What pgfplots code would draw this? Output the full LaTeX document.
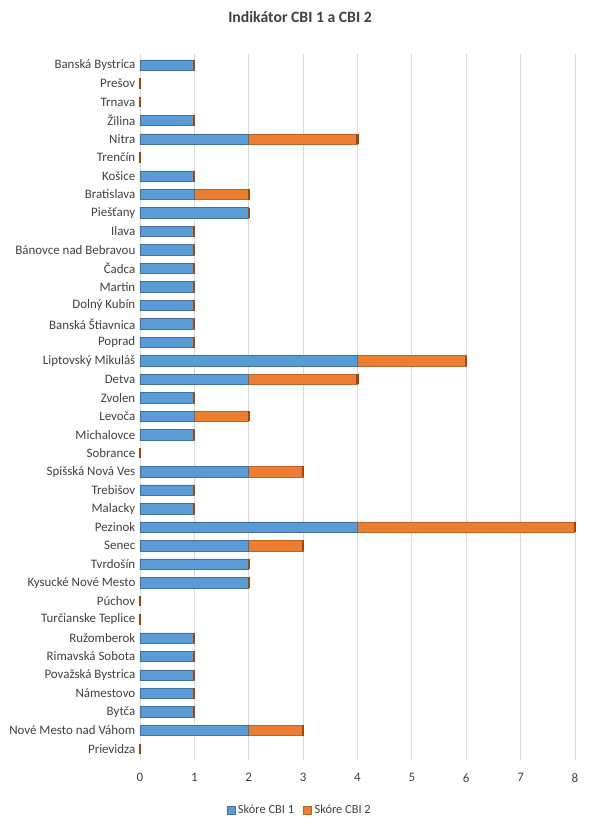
\documentclass[border=0pt]{standalone}
\usepackage{pgfplots}
\pgfplotsset{compat=1.18}
\usepackage{fontspec}
\setmainfont{Carlito}
\definecolor{cbione}{HTML}{5B9BD5}
\definecolor{cbitwo}{HTML}{ED7D31}
\definecolor{cbionedark}{HTML}{41719C}
\definecolor{cbitwodark}{HTML}{9E480E}
\definecolor{gridgray}{HTML}{D9D9D9}
\definecolor{labelgray}{HTML}{404040}
\pgfplotsset{frame/.style={
  at={(0,0)}, anchor=south west,
  scale only axis,
  width=326.25pt, height=529.5pt,
  xmin=0, xmax=8,
  ymin=-0.6, ymax=37.6,
  y dir=reverse,
}}
\begin{document}
\begin{tikzpicture}
\useasboundingbox (-105pt,-48pt) rectangle (345pt,570pt);
\begin{axis}[
  frame,
  xbar stacked,
  bar width=7.8pt,
  xtick={0,1,...,8},
  ytick={0,1,...,37},
  yticklabels={Banská Bystrica,Prešov,Trnava,Žilina,Nitra,Trenčín,Košice,Bratislava,Piešťany,Ilava,Bánovce nad Bebravou,Čadca,Martin,Dolný Kubín,Banská Štiavnica,Poprad,Liptovský Mikuláš,Detva,Zvolen,Levoča,Michalovce,Sobrance,Spišská Nová Ves,Trebišov,Malacky,Pezinok,Senec,Tvrdošín,Kysucké Nové Mesto,Púchov,Turčianske Teplice,Ružomberok,Rimavská Sobota,Považská Bystrica,Námestovo,Bytča,Nové Mesto nad Váhom,Prievidza},
  /pgf/number format/assume math mode=true,
  tick label style={font=\fontsize{9.7}{11}\selectfont, text=labelgray},
  xticklabel style={yshift=-6.5pt},
  major tick length=0pt,
  axis line style={draw=none},
  xmajorgrids,
  grid style={gridgray, line width=0.6pt},
  legend style={at={(0.368,-0.0708)}, anchor=center, draw=none, legend columns=2,
    font=\fontsize{9.3}{11}\selectfont, text=labelgray,
    /tikz/every even column/.append style={column sep=5pt}},
  legend image code/.code={\fill[#1] (0pt,-3pt) rectangle (6pt,3pt);},
]
\addplot[fill=cbione, draw=cbionedark, line width=0.4pt] coordinates {
(1,0) (0,1) (0,2) (1,3) (2,4) (0,5) (1,6) (1,7) (2,8) (1,9)
(1,10) (1,11) (1,12) (1,13) (1,14) (1,15) (4,16) (2,17) (1,18) (1,19)
(1,20) (0,21) (2,22) (1,23) (1,24) (4,25) (2,26) (2,27) (2,28) (0,29)
(0,30) (1,31) (1,32) (1,33) (1,34) (1,35) (2,36) (0,37)
};
\addplot[fill=cbitwo, draw=cbitwo!80!black, line width=0.4pt] coordinates {
(0,0) (0,1) (0,2) (0,3) (2,4) (0,5) (0,6) (1,7) (0,8) (0,9)
(0,10) (0,11) (0,12) (0,13) (0,14) (0,15) (2,16) (2,17) (0,18) (1,19)
(0,20) (0,21) (1,22) (0,23) (0,24) (4,25) (1,26) (0,27) (0,28) (0,29)
(0,30) (0,31) (0,32) (0,33) (0,34) (0,35) (1,36) (0,37)
};
\legend{Skóre CBI 1, Skóre CBI 2}
\end{axis}
% end caps of the bars (3D side face) at each bar's total
\begin{axis}[frame, hide axis, clip=false]
\addplot[only marks, mark=|, mark size=3.9pt,
  mark options={draw=cbitwodark, line width=1.6pt}] coordinates {
(1,0) (0,1) (0,2) (1,3) (4,4) (0,5) (1,6) (2,7) (2,8) (1,9)
(1,10) (1,11) (1,12) (1,13) (1,14) (1,15) (6,16) (4,17) (1,18) (2,19)
(1,20) (0,21) (3,22) (1,23) (1,24) (8,25) (3,26) (2,27) (2,28) (0,29)
(0,30) (1,31) (1,32) (1,33) (1,34) (1,35) (3,36) (0,37)
};
\end{axis}
\node[font=\bfseries\fontsize{11.8}{14}\selectfont, text=labelgray] at (120pt,557pt) {Indikátor CBI 1 a CBI 2};
\end{tikzpicture}
\end{document}
